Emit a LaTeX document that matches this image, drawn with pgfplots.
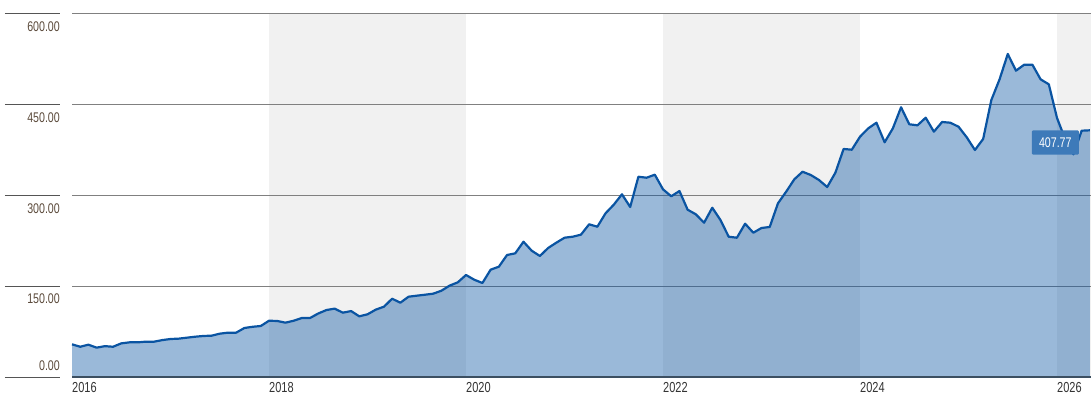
\documentclass[border=0pt]{standalone}
\usepackage{pgfplots}
\pgfplotsset{compat=1.18}
\usepackage{pgfplotstable}
\usepackage{fontspec}
\setmainfont[FakeStretch=0.76]{Liberation Sans}
\definecolor{linec}{HTML}{0A54A2}
\definecolor{bandc}{HTML}{F1F1F1}
\definecolor{gridc}{HTML}{808080}
\definecolor{ylabc}{HTML}{5B4A3B}
\definecolor{xlabc}{HTML}{333333}
\definecolor{axisc}{HTML}{3C4F61}
\definecolor{boxc}{HTML}{3D7AB9}
\definecolor{labline}{HTML}{555555}

% month index (0 = Jan 2016), value
\pgfplotstableread{
x y
0 54
1 50
2 53.4
3 48.5
4 51
5 50
6 55.6
7 57.3
8 57.3
9 58.4
10 58.4
11 61
12 62.8
13 63.4
14 65
15 66.6
16 67.8
17 68.3
18 71.6
19 73.3
20 73.3
21 81
22 83
23 84.3
24 93
25 92.6
26 89.8
27 93
28 97.5
29 97.5
30 105
31 110.7
32 113
33 106.3
34 109
35 100.3
36 103.6
37 111.3
38 116.2
39 129.4
40 122.8
41 132.7
42 134.4
43 136
44 137.7
45 142.6
46 151
47 156.5
48 168.6
49 160.8
50 155.4
51 177.4
52 182.3
53 201.7
54 204.4
55 223.6
56 208.8
57 200
58 213.2
59 222
60 230.2
61 231.9
62 235.2
63 252.4
64 248.4
65 270.6
66 284.8
67 302
68 281
69 331
70 329.4
71 334.4
72 310.2
73 298.7
74 307.4
75 276.5
76 268.9
77 255
78 279.8
79 259.5
80 231.9
81 230.2
82 253.4
83 238.5
84 246.3
85 248
86 287
87 306.3
88 326.8
89 339.3
90 333.9
91 325.6
92 314
93 337.7
94 376.9
95 375.7
96 397.2
97 411
98 420.3
99 388
100 411
101 445.8
102 417.7
103 416
104 428.6
105 405.5
106 421.5
107 420.3
108 413.7
109 396.2
110 375.2
111 393.4
112 457.9
113 492
114 533.9
115 506.3
116 516.2
117 516.2
118 492
119 483.8
120 428.1
121 392.9
122 368
123 407.1
124 407.77
}\data

\begin{document}
\begin{tikzpicture}
\begin{axis}[
  name=ax, set layers=standard,
  width=1019pt, height=363pt, scale only axis,
  xmin=0, xmax=124.14, ymin=0, ymax=600,
  axis line style={draw=none},
  major tick length=0pt,
  ymajorgrids, grid style={gridc, line width=1pt},
  ytick={150,300,450,600},
  yticklabels={150.00,300.00,450.00,600.00},
  yticklabel style={anchor=base east, inner sep=0pt, xshift=-12pt, yshift=-17.7pt, text=ylabc, font=\fontsize{14}{16}\selectfont},
  extra y ticks={0}, extra y tick labels={0.00},
  extra y tick style={yticklabel style={yshift=24pt}},
  xtick={0,24,48,72,96,120},
  xticklabels={2016,2018,2020,2022,2024,2026},
  xticklabel style={anchor=north west, inner sep=0pt, yshift=-5pt, text=xlabc, font=\fontsize{14.5}{16}\selectfont},
  clip=false,
]
\begin{pgfonlayer}{axis background}
\fill[bandc] (axis cs:24,0) rectangle (axis cs:48,600);
\fill[bandc] (axis cs:72,0) rectangle (axis cs:96,600);
\fill[bandc] (axis cs:120,0) rectangle (axis cs:124.14,600);
\end{pgfonlayer}
\addplot[draw=none, fill=linec, fill opacity=0.41] table[x=x,y=y]{\data} \closedcycle;
\addplot[linec, line width=2.2pt, line join=round] table[x=x,y=y]{\data};
\draw[axisc, line width=1.5pt] (axis cs:0,0) -- (axis cs:124.14,0);
\draw[labline, line width=1pt] ([xshift=-67pt]axis cs:0,600) -- ([xshift=-12pt]axis cs:0,600);
\draw[labline, line width=1pt] ([xshift=-67pt]axis cs:0,450) -- ([xshift=-12pt]axis cs:0,450);
\draw[labline, line width=1pt] ([xshift=-67pt]axis cs:0,300) -- ([xshift=-12pt]axis cs:0,300);
\draw[labline, line width=1pt] ([xshift=-67pt]axis cs:0,150) -- ([xshift=-12pt]axis cs:0,150);
\draw[labline, line width=1pt] ([xshift=-67pt]axis cs:0,0) -- ([xshift=-12pt]axis cs:0,0);
\node[anchor=north east, fill=boxc, text=white, inner sep=0pt, minimum width=47pt, minimum height=24pt, rounded corners=1pt, font=\fontsize{14}{16}\selectfont] at ([xshift=-12pt]axis cs:124.14,407.77) {407.77};
\end{axis}
\pgfresetboundingbox
\path[use as bounding box] ([xshift=-72pt,yshift=-25pt]ax.south west) rectangle ([yshift=14pt]ax.north east);
\end{tikzpicture}
\end{document}
